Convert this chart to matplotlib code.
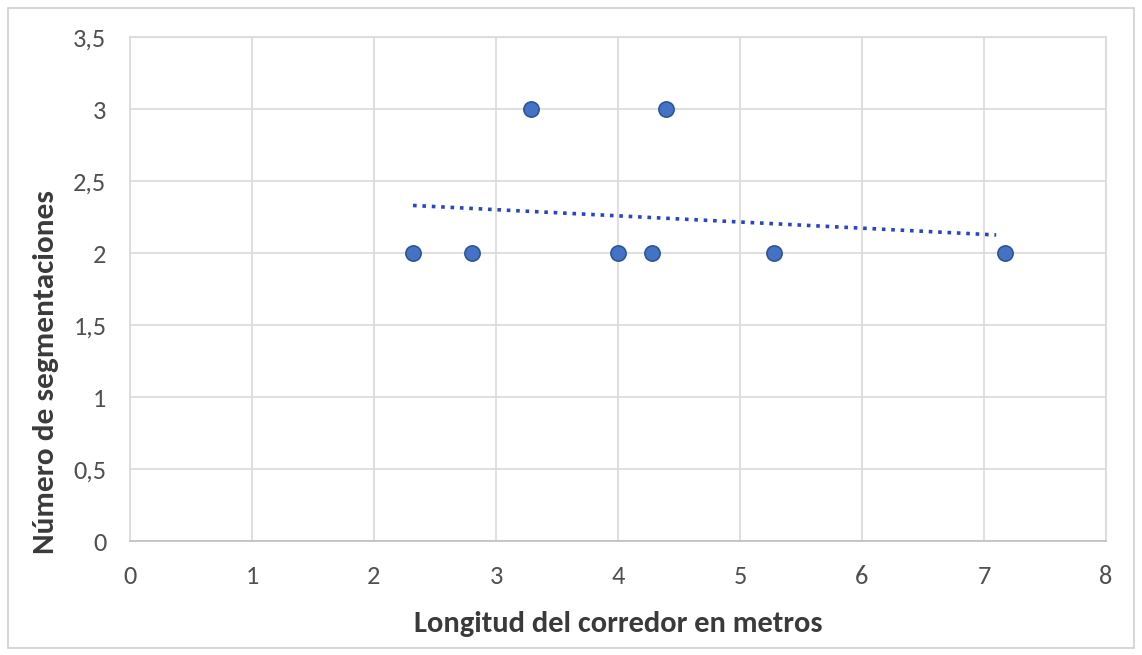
import matplotlib.pyplot as plt
import numpy as np
from matplotlib.ticker import FuncFormatter, MultipleLocator
from matplotlib.patches import Rectangle

# datos
longitud = [2.32, 2.80, 3.29, 4.00, 4.28, 4.39, 5.28, 7.17]
segmentaciones = [2, 2, 3, 2, 2, 3, 2, 2]

plt.rcParams['font.family'] = ['Carlito', 'Lato', 'DejaVu Sans']

fig = plt.figure(figsize=(11.42, 6.55), dpi=100)
fig.patches.append(Rectangle((0.007, 0.01), 0.986, 0.978, transform=fig.transFigure,
                             fill=False, edgecolor='#d0d0d0', linewidth=1.2))
ax = fig.add_axes([0.1138, 0.174, 0.8547, 0.7695])

ax.scatter(longitud, segmentaciones, s=120, color='#4472C4', edgecolors='#2f5597',
           linewidths=1.2, zorder=3)

# linea de tendencia lineal (minimos cuadrados)
m, b = np.polyfit(longitud, segmentaciones, 1)
xt = np.array([min(longitud), max(longitud) - 0.07])
ax.plot(xt, m * xt + b, linestyle=(0, (1, 1.6)), color='#2a45c4', linewidth=2.6, zorder=2)

ax.set_xlim(0, 8)
ax.set_ylim(0, 3.5)
ax.xaxis.set_major_locator(MultipleLocator(1))
ax.yaxis.set_major_locator(MultipleLocator(0.5))
fmt = FuncFormatter(lambda v, p: '{:g}'.format(v).replace('.', ','))
ax.xaxis.set_major_formatter(fmt)
ax.yaxis.set_major_formatter(fmt)

ax.grid(True, color='#d9d9d9', linewidth=1.2)
ax.set_axisbelow(True)
for s in ax.spines.values():
    s.set_color('#d9d9d9')
    s.set_linewidth(1.2)
ax.spines['bottom'].set_color('#bfbfbf')
ax.tick_params(length=0, labelsize=19, colors='#505050', pad=17)

ax.set_xlabel('Longitud del corredor en metros', fontsize=22, fontweight='bold',
              color='#3a3a3a', labelpad=17)
ax.set_ylabel('Número de segmentaciones', fontsize=22.5, fontweight='bold',
              color='#3a3a3a')
ax.yaxis.set_label_coords(-0.073, 0.335)

fig.savefig('out.png', dpi=100)
